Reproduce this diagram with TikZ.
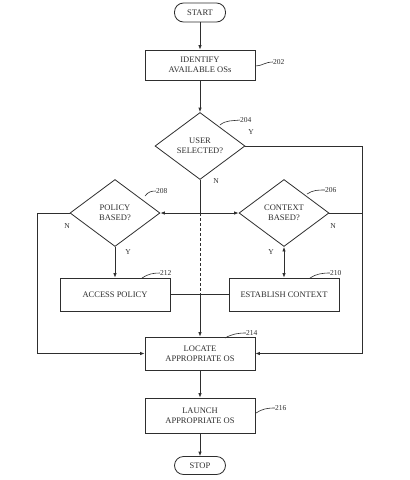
\documentclass[tikz,border=0pt]{standalone}
\usepackage{fontspec}
\setmainfont{Liberation Serif}
\usetikzlibrary{shapes.geometric,arrows.meta}
\definecolor{ink}{HTML}{2E2E2E}
\begin{document}
\begin{tikzpicture}[x=1pt,y=-1pt,
  line/.style={draw=ink,line width=0.8pt},
  arr/.style={line,-{Latex[length=4.5pt,width=3.5pt]}},
  darr/.style={line,{Latex[length=4.5pt,width=3.5pt]}-{Latex[length=4.5pt,width=3.5pt]}},
  txt/.style={text=ink,font=\fontsize{8.5}{10}\selectfont},
  box/.style={line,txt,rectangle,minimum width=110pt,minimum height=32pt,inner sep=1pt,align=center},
  term/.style={line,txt,rectangle,rounded corners=9pt,minimum width=51pt,minimum height=19pt,inner sep=1pt},
  dec/.style={line,txt,diamond,minimum width=90pt,minimum height=67pt,inner sep=0pt,align=center},
  num/.style={text=ink,font=\fontsize{7.5}{8}\selectfont,inner sep=0pt,anchor=west},
  yn/.style={text=ink,font=\fontsize{7.5}{8}\selectfont,inner sep=0pt},
  lead/.style={draw=ink,line width=0.6pt}
]
\useasboundingbox (0,0) rectangle (410,480);
\fill[white] (0,0) rectangle (410,480);

\node[term] (start) at (200,12.5) {START};
\node[box,minimum height=30pt] (b202) at (200,65) {IDENTIFY\\AVAILABLE OSs};
\node[dec] (d204) at (200,146) {USER\\SELECTED?};
\node[dec] (d208) at (115,213) {POLICY\\BASED?};
\node[dec] (d206) at (284,213) {CONTEXT\\BASED?};
\node[box,minimum height=33pt] (b212) at (115,294.5) {ACCESS POLICY};
\node[box,minimum height=33pt] (b210) at (284,294.5) {ESTABLISH CONTEXT};
\node[box,minimum height=33pt] (b214) at (200,353.5) {LOCATE\\APPROPRIATE OS};
\node[box,minimum height=35pt] (b216) at (200,415.5) {LAUNCH\\APPROPRIATE OS};
\node[term,minimum height=18pt] (stop) at (200,465.5) {STOP};

\coordinate (j) at (200,213);
\coordinate (m) at (200,294.5);
\coordinate (rt) at (362,146);
\coordinate (rb) at (362,353.5);
\coordinate (lt) at (37,213);
\coordinate (lb) at (37,353.5);
\coordinate (cr) at (362,213);

\draw[arr] (start) -- (b202);
\draw[arr] (b202) -- (d204);
\draw[line] (d204.south) -- (j);
\draw[arr] (j) -- (d208.east);
\draw[arr] (j) -- (d206.west);
\draw[line,dashed,dash pattern=on 3pt off 2pt] (j) -- (m);
\draw[arr] (m) -- (b214.north);
\draw[arr] (d204.east) -- (rt) -- (rb) -- (b214.east);
\draw[line] (d206.east) -- (cr);
\draw[arr] (d208.west) -- (lt) -- (lb) -- (b214.west);
\draw[arr] (d208.south) -- (b212.north);
\draw[darr] (d206.south) -- (b210.north);
\draw[line] (b212.east) -- (b210.west);
\draw[arr] (b214) -- (b216);
\draw[arr] (b216) -- (stop);

% reference numerals
\node[num] (n202) at (273,62) {202};
\draw[lead] (b202.east |- 0,66) .. controls (262,66) and (265,62) .. (n202.west);
\node[num] (n204) at (240,120) {204};
\draw[lead] (220,125) .. controls (226,120) and (232,121) .. (n204.west);
\node[num] (n208) at (156,191) {208};
\draw[lead] (145,196) .. controls (148,192) and (151,191) .. (n208.west);
\node[num] (n206) at (325,190) {206};
\draw[lead] (307,194) .. controls (313,190) and (318,190) .. (n206.west);
\node[num] (n212) at (160,273) {212};
\draw[lead] (142,278) .. controls (148,274) and (153,273) .. (n212.west);
\node[num] (n210) at (330,273) {210};
\draw[lead] (310,278) .. controls (316,274) and (322,273) .. (n210.west);
\node[num] (n214) at (246,333) {214};
\draw[lead] (225,338) .. controls (232,334) and (238,333) .. (n214.west);
\node[num] (n216) at (275,408) {216};
\draw[lead] (256,413) .. controls (262,409) and (267,408) .. (n216.west);

% Y / N labels
\node[yn] (y204) at (251,132) {Y};
\node[yn] (n204l) at (216,181) {N};
\node[yn] (n208l) at (67,226) {N};
\node[yn] (y208) at (128,252) {Y};
\node[yn] (n206l) at (333,226) {N};
\node[yn] (y206) at (271,252) {Y};
\end{tikzpicture}
\end{document}
